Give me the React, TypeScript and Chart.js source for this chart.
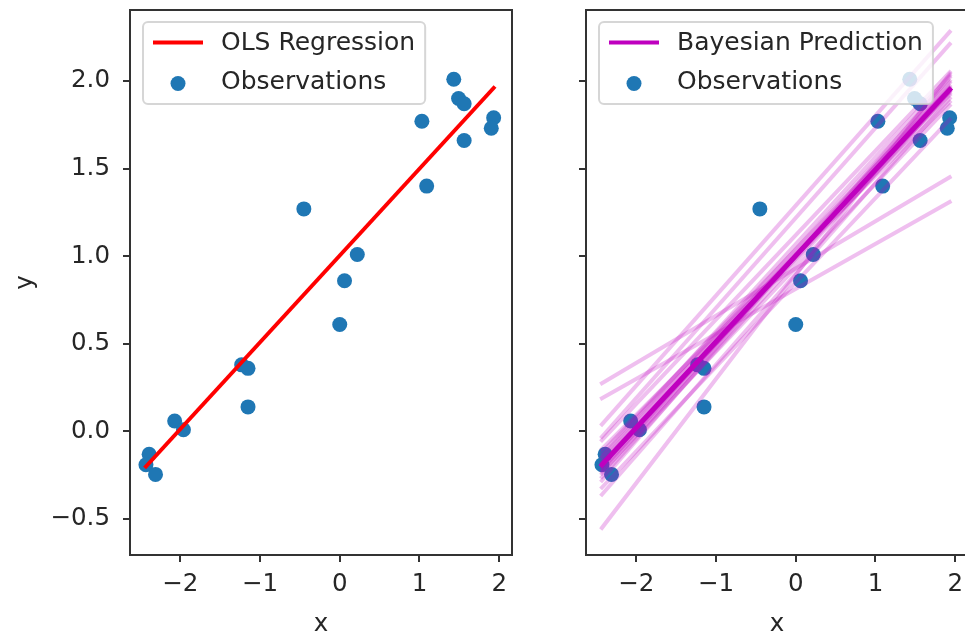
import React, { useEffect, useRef } from 'react';
import { Chart, registerables } from 'chart.js';

Chart.register(...registerables);

// ---- data ----
const obsX = [1.43, 1.49, 1.56, 1.03, 1.93, 1.9, 1.56, 1.09, -0.45, 0.22, 0.06, 0.0, -1.23, -1.15, -1.15, -2.07, -1.96, -2.39, -2.43, -2.31];
const obsY = [2.01, 1.9, 1.87, 1.77, 1.79, 1.73, 1.66, 1.4, 1.27, 1.01, 0.86, 0.61, 0.38, 0.36, 0.14, 0.06, 0.01, -0.13, -0.19, -0.245];

const lineX = [-2.43, 1.93];
const olsY = [-0.2, 1.96];
const bayesMeanY = [-0.19, 1.95];
const bayesStartY = [-0.2, -0.18, -0.22, -0.19, -0.24, -0.15, -0.21, -0.26, -0.12, -0.17, -0.1, -0.28, 0.275, 0.19, 0.04, -0.03, -0.55, -0.32, -0.05, -0.36, -0.14, -0.23];
const bayesEndY = [1.95, 1.94, 1.97, 1.92, 1.99, 1.93, 1.96, 1.94, 1.96, 2.0, 1.88, 2.02, 1.45, 1.31, 2.28, 2.21, 2.04, 1.78, 2.05, 1.9, 2.03, 1.86];

const xTicks = [-2, -1, 0, 1, 2];
const yTicks = [-0.5, 0, 0.5, 1, 1.5, 2];
const xLimits = [-2.63, 2.16];
const yLimits = [-0.705, 2.405];

const FONT = '"DejaVu Sans", sans-serif';
const TEXT = '#262626';
const AXIS = '#333333';

const fmtX = (v: number) => (v < 0 ? '\u2212' : '') + Math.abs(v).toString();
const fmtY = (v: number) => (v < 0 ? '\u2212' : '') + Math.abs(v).toFixed(1);

const framePlugin = {
  id: 'frame',
  afterDatasetsDraw(chart: any) {
    const { ctx, chartArea } = chart;
    ctx.save();
    ctx.strokeStyle = AXIS;
    ctx.lineWidth = 2;
    ctx.strokeRect(chartArea.left, chartArea.top, chartArea.right - chartArea.left, chartArea.bottom - chartArea.top);
    ctx.restore();
  },
};

const legendPlugin = {
  id: 'mplLegend',
  afterDraw(chart: any) {
    const { ctx, chartArea } = chart;
    const items = chart.data.datasets.filter((d: any) => d.label);
    ctx.save();
    ctx.font = `25px ${FONT}`;
    const textW = Math.max(...items.map((d: any) => ctx.measureText(d.label).width));
    const x0 = chartArea.left + 13;
    const y0 = chartArea.top + 12;
    const pad = 10, handleLen = 50, handlePad = 18;
    const w = pad + handleLen + handlePad + textW + pad;
    const h = 82;
    ctx.beginPath();
    ctx.roundRect(x0, y0, w, h, 5);
    ctx.fillStyle = 'rgba(255,255,255,0.8)';
    ctx.fill();
    ctx.strokeStyle = 'rgba(204,204,204,0.8)';
    ctx.lineWidth = 2;
    ctx.stroke();
    items.forEach((d: any, i: number) => {
      const hx = x0 + pad;
      if (d.showLine) {
        const cy = y0 + 20.5 + i * 39;
        ctx.beginPath();
        ctx.moveTo(hx, cy);
        ctx.lineTo(hx + handleLen, cy);
        ctx.strokeStyle = d.borderColor;
        ctx.lineWidth = 4;
        ctx.stroke();
      } else {
        const cy = y0 + 22.5 + i * 39;
        ctx.beginPath();
        ctx.arc(hx + handleLen / 2, cy, 7.5, 0, Math.PI * 2);
        ctx.fillStyle = d.backgroundColor;
        ctx.fill();
      }
      ctx.fillStyle = TEXT;
      ctx.textBaseline = 'middle';
      ctx.textAlign = 'left';
      ctx.fillText(d.label, hx + handleLen + handlePad, y0 + 21 + i * 39);
    });
    ctx.restore();
  },
};

function makeScales(showYLabels: boolean, yWidth: number) {
  const grid = { drawOnChartArea: false, drawTicks: true, tickLength: 7, color: AXIS, lineWidth: 2 };
  return {
    x: {
      type: 'linear',
      min: xLimits[0],
      max: xLimits[1],
      afterBuildTicks: (s: any) => { s.ticks = xTicks.map((v) => ({ value: v })); },
      afterFit: (s: any) => { s.height = 86; s.paddingLeft = 0; s.paddingRight = 0; },
      grid,
      border: { display: false },
      ticks: { autoSkip: false, maxRotation: 0, padding: 8, color: TEXT, font: { family: FONT, size: 24.5 }, callback: (v: any) => fmtX(Number(v)) },
      title: { display: true, text: 'x', color: TEXT, font: { family: FONT, size: 24.5 }, padding: { top: 0, bottom: 2 } },
    },
    y: {
      type: 'linear',
      min: yLimits[0],
      max: yLimits[1],
      afterBuildTicks: (s: any) => { s.ticks = yTicks.map((v) => ({ value: v })); },
      afterFit: (s: any) => { s.width = yWidth; s.paddingTop = 0; s.paddingBottom = 0; },
      grid,
      border: { display: false },
      ticks: { display: showYLabels, autoSkip: false, padding: 13, color: TEXT, font: { family: FONT, size: 24.5 }, callback: (v: any) => fmtY(Number(v)) },
      title: { display: showYLabels, text: 'y', color: TEXT, font: { family: FONT, size: 24.5 }, padding: { top: 11, bottom: 0 } },
    },
  };
}

const observations = () => ({
  label: 'Observations',
  data: obsX.map((x, i) => ({ x, y: obsY[i] })),
  showLine: false,
  pointRadius: 7.5,
  pointHoverRadius: 7.5,
  backgroundColor: '#1f77b4',
  borderWidth: 0,
});

function leftConfig(): any {
  return {
    type: 'scatter',
    data: {
      datasets: [
        {
          label: 'OLS Regression',
          data: lineX.map((x, i) => ({ x, y: olsY[i] })),
          showLine: true,
          borderColor: '#ff0000',
          borderWidth: 4,
          pointRadius: 0,
          borderCapStyle: 'square',
        },
        observations(),
      ],
    },
    options: {
      responsive: false,
      animation: false,
      events: [],
      layout: { padding: { top: 10, right: 28, left: 0, bottom: 0 } },
      plugins: { legend: { display: false }, tooltip: { enabled: false } },
      scales: makeScales(true, 130),
    },
    plugins: [framePlugin, legendPlugin],
  };
}

function rightConfig(): any {
  const samples = bayesStartY.map((y0, i) => ({
    label: '',
    data: [{ x: lineX[0], y: y0 }, { x: lineX[1], y: bayesEndY[i] }],
    showLine: true,
    borderColor: 'rgba(191,0,191,0.25)',
    borderWidth: 4,
    pointRadius: 0,
    borderCapStyle: 'square',
  }));
  return {
    type: 'scatter',
    data: {
      datasets: [
        {
          label: 'Bayesian Prediction',
          data: lineX.map((x, i) => ({ x, y: bayesMeanY[i] })),
          showLine: true,
          borderColor: '#bf00bf',
          borderWidth: 5,
          pointRadius: 0,
          borderCapStyle: 'square',
        },
        ...samples,
        observations(),
      ],
    },
    options: {
      responsive: false,
      animation: false,
      events: [],
      layout: { padding: { top: 10, right: 22, left: 0, bottom: 0 } },
      plugins: { legend: { display: false }, tooltip: { enabled: false } },
      scales: makeScales(false, 46),
    },
    plugins: [framePlugin, legendPlugin],
  };
}

function ChartCanvas({ config, left, width }: { config: () => any; left: number; width: number }) {
  const ref = useRef<HTMLCanvasElement | null>(null);
  useEffect(() => {
    if (!ref.current) return;
    const chart = new Chart(ref.current, config());
    return () => chart.destroy();
  }, [config]);
  return (
    <canvas
      ref={ref}
      width={width}
      height={641}
      style={{ position: 'absolute', left, top: 0, width, height: 641 }}
    />
  );
}

export default function App() {
  return (
    <div
      style={{
        position: 'fixed',
        left: 0,
        top: 0,
        width: 965,
        height: 641,
        overflow: 'hidden',
        background: '#ffffff',
      }}
    >
      <ChartCanvas config={leftConfig} left={0} width={540} />
      <ChartCanvas config={rightConfig} left={540} width={450} />
    </div>
  );
}
